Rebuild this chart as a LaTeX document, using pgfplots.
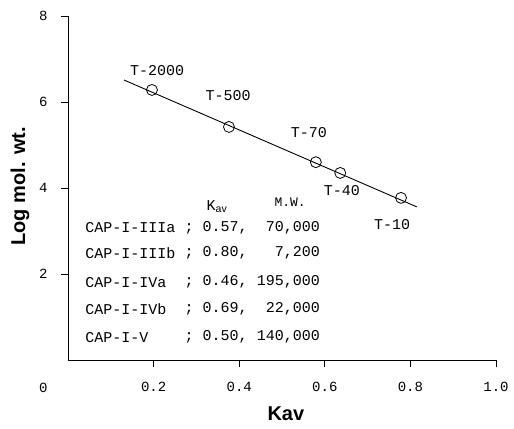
\documentclass[border=0pt]{standalone}
\usepackage{pgfplots}
\pgfplotsset{compat=1.18}
\usepackage{fontspec}
\setmainfont{Liberation Sans}
\newfontfamily\tw{Liberation Mono}
\newcommand\tabrow[4]{%
  \node[font=\tw\fontsize{15}{17}\selectfont, anchor=west, inner sep=0pt] at (axis cs:0.040,#4) {#1};
  \node[font=\tw\fontsize{15}{17}\selectfont, anchor=west, inner sep=0pt] at (axis cs:0.272,#4) {; #2,};
  \node[font=\tw\fontsize{15}{17}\selectfont, anchor=east, inner sep=0pt] at (axis cs:0.589,#4) {#3};
}
\begin{document}
\begin{tikzpicture}
\begin{axis}[
  name=ax,
  scale only axis,
  width=428pt, height=344pt,
  xmin=0, xmax=1.0, ymin=0, ymax=8,
  axis x line=bottom, axis y line=left,
  axis line style={-, line width=0.9pt},
  xtick={0.2,0.4,0.6,0.8,1.0},
  xticklabels={0.2,0.4,0.6,0.8,1.0},
  ytick={2,4,6,8},
  yticklabels={2,4,6,8},
  tick align=outside,
  major tick length=7pt,
  tick style={line width=0.8pt, black},
  xticklabel style={font=\tw\fontsize{14}{16}\selectfont, yshift=-12pt},
  yticklabel style={font=\tw\fontsize{14}{16}\selectfont, xshift=-10pt},
  xlabel={\bfseries Kav},
  xlabel style={font=\fontsize{20}{22}\selectfont, at={(axis description cs:0.509,-0.155)}, anchor=center},
  ylabel={\bfseries Log mol. wt.},
  ylabel style={font=\fontsize{20}{22}\selectfont, at={(axis description cs:-0.112,0.505)}, anchor=center},
  clip=false,
]
\path (rel axis cs:-0.159,-0.198) rectangle (rel axis cs:1.042,1.0465);
\addplot[black, line width=0.9pt] coordinates {(0.131,6.51) (0.815,3.56)};
\addplot[only marks, mark=o, mark size=5.5pt, mark options={fill=white, line width=0.8pt}, draw=black]
  coordinates {(0.196,6.28) (0.376,5.42) (0.579,4.60) (0.636,4.35) (0.778,3.77)};
\node[font=\tw\fontsize{15}{17}\selectfont] at (axis cs:0.208,6.74) {T-2000};
\node[font=\tw\fontsize{15}{17}\selectfont] at (axis cs:0.374,6.14) {T-500};
\node[font=\tw\fontsize{15}{17}\selectfont] at (axis cs:0.563,5.28) {T-70};
\node[font=\tw\fontsize{15}{17}\selectfont] at (axis cs:0.640,3.95) {T-40};
\node[font=\tw\fontsize{15}{17}\selectfont] at (axis cs:0.757,3.16) {T-10};
\node[font=\tw\fontsize{14}{16}\selectfont] at (axis cs:-0.058,-0.65) {0};
% table
\node[font=\tw\fontsize{15}{17}\selectfont] at (axis cs:0.348,3.56) {K$_{\mathrm{av}}$};
\node[font=\tw\fontsize{13}{15}\selectfont] at (axis cs:0.519,3.68) {M.W.};
\tabrow{CAP-I-IIIa}{0.57}{70,000}{3.07}
\tabrow{CAP-I-IIIb}{0.80}{7,200}{2.49}
\tabrow{CAP-I-IVa}{0.46}{195,000}{1.81}
\tabrow{CAP-I-IVb}{0.69}{22,000}{1.19}
\tabrow{CAP-I-V}{0.50}{140,000}{0.53}
\end{axis}
\end{tikzpicture}
\end{document}
